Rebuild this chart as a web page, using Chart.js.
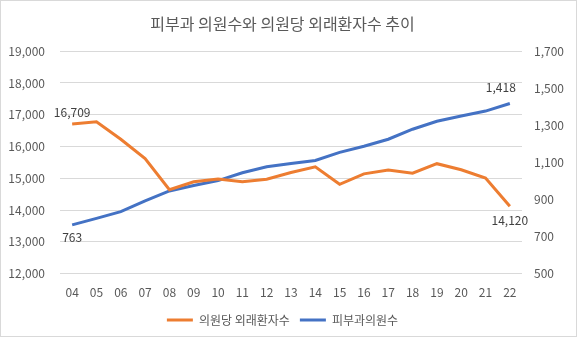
<!DOCTYPE html>
<html>
<head>
<meta charset="utf-8">
<script src="https://cdn.jsdelivr.net/npm/chart.js@4"></script>
<style>
    html, body { margin: 0; padding: 0; background: #fff; }
    #wrap { position: relative; width: 577px; height: 337px; box-sizing: border-box; border: 1px solid #d9d9d9; }
    #trendCanvas { position: absolute; left: 0; top: 0; }
</style>
</head>
<body>
<div id="wrap"><canvas id="trendCanvas" width="575" height="335"></canvas></div>
<script>
// 피부과 의원수 / 의원당 외래환자수 (2004~2022)
const years = ['04', '05', '06', '07', '08', '09', '10', '11', '12', '13', '14', '15', '16', '17', '18', '19', '20', '21', '22'];
const patientsPerClinic = [16709, 16780, 16230, 15620, 14640, 14890, 14980, 14890, 14970, 15180, 15360, 14810, 15140, 15260, 15160, 15460, 15270, 15010, 14120];
const clinicCount = [763, 798, 834, 893, 946, 975, 1002, 1044, 1076, 1094, 1110, 1154, 1187, 1225, 1279, 1322, 1350, 1377, 1418];
const leftTicks = { min: 12000, max: 19000, step: 1000 };
const rightTicks = { min: 500, max: 1700, step: 200 };

const TEXT = '#595959';
const FONT = '"Noto Sans CJK KR", "Noto Sans", sans-serif';

// first/last point labels, like the Excel data labels (offsets in px from the point)
const endLabels = {
    id: 'endLabels',
    afterDatasetsDraw(chart) {
        const ctx = chart.ctx;
        ctx.save();
        ctx.font = '12px ' + FONT;
        ctx.fillStyle = '#404040';
        ctx.textAlign = 'center';
        ctx.textBaseline = 'middle';
        chart.data.datasets.forEach((ds, i) => {
            const meta = chart.getDatasetMeta(i);
            const last = ds.data.length - 1;
            [0, last].forEach((idx, k) => {
                const pt = meta.data[idx];
                const off = ds.labelOffset[k];
                ctx.fillText(ds.data[idx].toLocaleString('en-US'), pt.x + off[0], pt.y + off[1]);
            });
        });
        ctx.restore();
    }
};

new Chart(document.getElementById('trendCanvas').getContext('2d'), {
    type: 'line',
    data: {
        labels: years,
        datasets: [
            {
                label: '의원당 외래환자수',
                data: patientsPerClinic,
                yAxisID: 'y',
                borderColor: '#ed7d31',
                backgroundColor: '#ed7d31',
                borderWidth: 3,
                pointRadius: 0,
                tension: 0,
                labelOffset: [[0, -12], [0, 14]]
            },
            {
                label: '피부과의원수',
                data: clinicCount,
                yAxisID: 'y1',
                borderColor: '#4472c4',
                backgroundColor: '#4472c4',
                borderWidth: 3,
                pointRadius: 0,
                tension: 0,
                labelOffset: [[0, 13], [-9, -16]]
            }
        ]
    },
    options: {
        responsive: false,
        animation: false,
        layout: { padding: { left: 0, right: 12, top: 0, bottom: 0 } },
        scales: {
            x: {
                offset: true,
                grid: { display: false },
                border: { display: false },
                ticks: { color: TEXT, font: { family: FONT, size: 12 }, padding: 4, maxRotation: 0 }
            },
            y: {
                position: 'left',
                min: leftTicks.min, max: leftTicks.max,
                grid: { color: '#d9d9d9', drawTicks: false },
                border: { display: false },
                ticks: {
                    stepSize: leftTicks.step, color: TEXT, padding: 15,
                    font: { family: FONT, size: 12 },
                    callback: v => v.toLocaleString('en-US')
                },
                afterFit: s => { s.width = 59; }
            },
            y1: {
                position: 'right',
                min: rightTicks.min, max: rightTicks.max,
                grid: { display: false, drawTicks: false },
                border: { display: false },
                ticks: {
                    stepSize: rightTicks.step, color: TEXT, padding: 12,
                    font: { family: FONT, size: 12 },
                    callback: v => v.toLocaleString('en-US')
                },
                afterFit: s => { s.width = 42; }
            }
        },
        plugins: {
            title: {
                display: true,
                text: '피부과 의원수와 의원당 외래환자수 추이',
                color: TEXT,
                font: { family: FONT, size: 16, weight: 'normal' },
                padding: { top: 13, bottom: 18 }
            },
            legend: {
                position: 'bottom',
                labels: {
                    color: TEXT,
                    font: { family: FONT, size: 12 },
                    usePointStyle: true,
                    pointStyle: 'line',
                    pointStyleWidth: 26,
                    padding: 10
                }
            },
            tooltip: { enabled: false }
        }
    },
    plugins: [endLabels]
});
</script>
</body>
</html>
